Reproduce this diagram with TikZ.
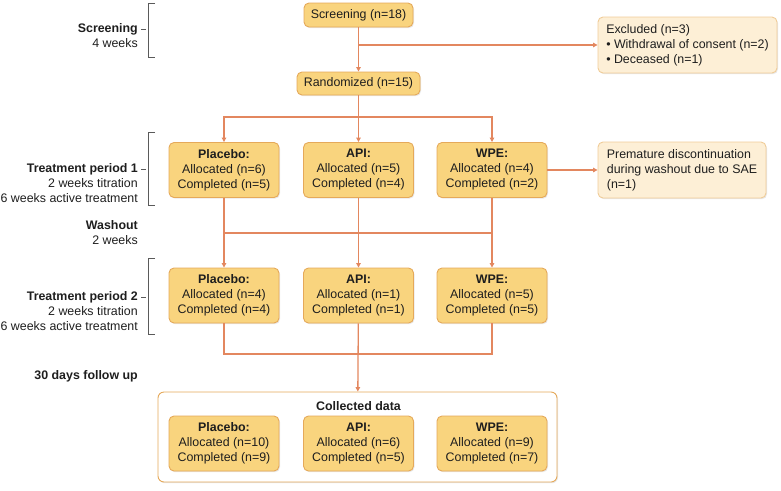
\documentclass[tikz,border=0pt]{standalone}
\usepackage{fontspec}
\setmainfont{Liberation Sans}
\usetikzlibrary{arrows.meta,shadows}
\definecolor{boxfill}{HTML}{F9D47E}
\definecolor{boxline}{HTML}{E5A95A}
\definecolor{lightfill}{HTML}{FDEFD6}
\definecolor{lightline}{HTML}{F0CC98}
\definecolor{linkcol}{HTML}{E3875F}
\definecolor{txtcol}{HTML}{1E1E1E}
\definecolor{brkcol}{HTML}{5A5A5A}
\begin{document}
\begin{tikzpicture}[x=1pt,y=-1pt,font=\fontsize{12.4}{15}\selectfont,text=txtcol,
	shade/.style={drop shadow={opacity=0.18,shadow xshift=1pt,shadow yshift=-1.2pt}},
	flow/.style={draw=boxline,fill=boxfill,rounded corners=5pt,line width=0.9pt,align=center,inner sep=0pt,shade},
	arm/.style={flow,minimum width=110pt,minimum height=55pt},
	note/.style={draw=lightline,fill=lightfill,rounded corners=5pt,line width=0.9pt,align=left,inner sep=0pt,minimum height=56pt,shade},
	lab/.style={align=right,anchor=east,inner sep=0pt},
	link/.style={draw=linkcol,line width=1.3pt},
	arr/.style={link,-{Triangle[length=4.5pt,width=4.5pt]}},
	brk/.style={draw=brkcol,line width=0.9pt}]
\useasboundingbox (0,0) rectangle (781,490);

\node[lab] (scrlab) at (138,35.5) {\textbf{Screening}\\4 weeks};
\node[lab] (tp1lab) at (138,183.5) {\textbf{Treatment period 1}\\2 weeks titration\\6 weeks active treatment};
\node[lab] (washlab) at (138,233) {\textbf{Washout}\\2 weeks};
\node[lab] (tp2lab) at (138,311) {\textbf{Treatment period 2}\\2 weeks titration\\6 weeks active treatment};
\node[lab] (fuplab) at (138,376) {\textbf{30 days follow up}};
\draw[brk] (155,3) -- (148,3) -- (148,57) -- (155,57);
\draw[brk] (141,29) -- (146,29);
\draw[brk] (155,132) -- (148,132) -- (148,205) -- (155,205);
\draw[brk] (141,169) -- (146,169);
\draw[brk] (155,258) -- (148,258) -- (148,334) -- (155,334);
\draw[brk] (141,297) -- (146,297);

\node[flow,minimum width=109pt,minimum height=24pt] (screen) at (358.5,15) {Screening (n=18)};
\node[flow,minimum width=123pt,minimum height=23pt] (rand) at (358.5,83.5) {Randomized (n=15)};
\node[note,minimum width=179pt] (excl) at (687.5,45) {Excluded (n=3)\\• Withdrawal of consent (n=2)\\• Deceased (n=1)};

\node[arm] (plac1) at (224,170) {\textbf{Placebo:}\\Allocated (n=6)\\Completed (n=5)};
\node[arm] (api1) at (358.5,170) {\textbf{API:}\\Allocated (n=5)\\Completed (n=4)};
\node[arm] (wpe1) at (492,170) {\textbf{WPE:}\\Allocated (n=4)\\Completed (n=2)};
\node[note,minimum width=168pt] (prem) at (682,170) {Premature discontinuation\\during washout due to SAE\\(n=1)};

\node[arm] (plac2) at (224,295.5) {\textbf{Placebo:}\\Allocated (n=4)\\Completed (n=4)};
\node[arm] (api2) at (358.5,295.5) {\textbf{API:}\\Allocated (n=1)\\Completed (n=1)};
\node[arm] (wpe2) at (492,295.5) {\textbf{WPE:}\\Allocated (n=5)\\Completed (n=5)};

\node[draw=boxline,fill=white,rounded corners=6pt,line width=0.9pt,minimum width=399pt,minimum height=90pt,shade] (coll) at (357.5,437) {};
\node (colllab) at (358.5,406) {\textbf{Collected data}};
\node[arm] (plac3) at (224,443.5) {\textbf{Placebo:}\\Allocated (n=10)\\Completed (n=9)};
\node[arm] (api3) at (358.5,443.5) {\textbf{API:}\\Allocated (n=6)\\Completed (n=5)};
\node[arm] (wpe3) at (492,443.5) {\textbf{WPE:}\\Allocated (n=9)\\Completed (n=7)};

\coordinate (excljoin) at (358.5,45);
\coordinate (randjoin) at (358.5,117);
\coordinate (washjoin) at (358.5,233);
\coordinate (fupjoin) at (358.5,354);

\draw[arr] (screen) -- (rand);
\draw[arr] (excljoin) -- (excl.west);
\draw[link] (rand) -- (randjoin);
\draw[arr] (randjoin) -| (plac1);
\draw[arr] (randjoin) -| (wpe1);
\draw[arr] (randjoin) -- (api1);
\draw[arr] (wpe1) -- (wpe1 -| prem.west);
\draw[arr] (plac1) -- (plac2);
\draw[arr] (api1) -- (api2);
\draw[arr] (wpe1) -- (wpe2);
\draw[link] (plac1 |- washjoin) -- (wpe1 |- washjoin);
\draw[link] (plac2) |- (fupjoin) -| (wpe2);
\draw[arr] (api2) -- (coll);
\end{tikzpicture}
\end{document}
